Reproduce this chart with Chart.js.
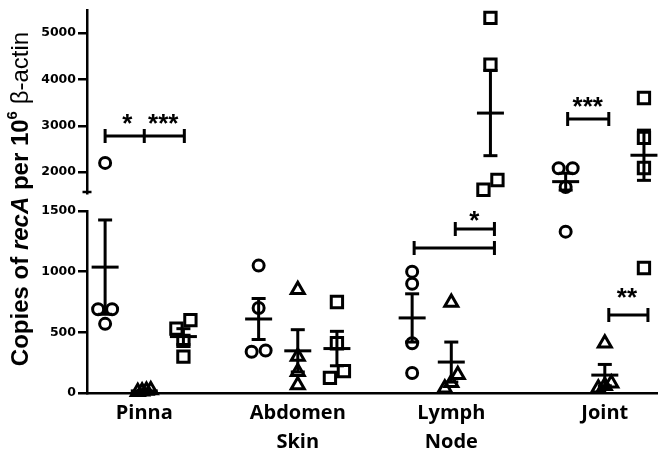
<!DOCTYPE html>
<html><head><meta charset="utf-8">
<script src="https://cdn.jsdelivr.net/npm/chart.js@4.4.1/dist/chart.umd.min.js"></script>
<style>html,body{margin:0;padding:0;background:#fff}#wrap{width:658px;height:460px}</style>
</head><body><div id="wrap"><canvas id="c" width="658" height="460"></canvas></div>
<script>
// ---------- data ----------
const categories = [['Pinna'], ['Abdomen', 'Skin'], ['Lymph', 'Node'], ['Joint']];
const circleValues   = [[2200, 690, 690, 570], [1050, 700, 350, 340], [1000, 900, 410, 165], [2085, 2085, 1680, 1330]];
const triangleValues = [[20, 10, 25, 15], [850, 300, 175, 65], [745, 150, 85, 40], [410, 80, 60, 40]];
const squareValues   = [[600, 530, 430, 300], [750, 410, 180, 125], [5330, 4320, 1830, 1620], [3600, 2740, 2090, 1030]];
const lowTicks  = [0, 500, 1000, 1500];
const highTicks = [2000, 3000, 4000, 5000];
const sigBrackets = [
  {axis: 'yHigh', y: 2780, x: [-0.255, 0, 0.261]},
  {axis: 'yLow',  y: 1195, x: [1.758, 2.281]},
  {axis: 'yLow',  y: 1352, x: [2.026, 2.281]},
  {axis: 'yHigh', y: 3147, x: [2.758, 3.026]},
  {axis: 'yLow',  y: 643,  x: [3.026, 3.281]}
];
const sigLabels = [
  {axis: 'yHigh', y: 3158, x: -0.111, text: '*'},
  {axis: 'yHigh', y: 3158, x: 0.124,  text: '***'},
  {axis: 'yLow',  y: 1459, x: 2.150,  text: '*'},
  {axis: 'yHigh', y: 3525, x: 2.889,  text: '***'},
  {axis: 'yLow',  y: 828,  x: 3.144,  text: '**'}
];

// ---------- helpers ----------
const BREAK = 1500, LOW_MAX = 1500, HIGH_MIN = 1550, HIGH_MAX = 5500;
const axisFor = v => (v >= BREAK ? 'yHigh' : 'yLow');
const mean = a => a.reduce((s, v) => s + v, 0) / a.length;
const sem = a => { const m = mean(a); return Math.sqrt(a.reduce((s, v) => s + (v - m) ** 2, 0) / (a.length - 1)) / Math.sqrt(a.length); };

const series = [
  {name: 'circle',   values: circleValues,   style: 'circle',   offset: -0.255, radius: 5.5},
  {name: 'triangle', values: triangleValues, style: 'triangle', offset: 0,      radius: 7.5},
  {name: 'square',   values: squareValues,   style: 'rect',     offset: 0.255,  radius: 8}
];

function buildDatasets(jit) {
  const ds = [];
  const whisk = {yLow: [], yHigh: []}, means = {yLow: [], yHigh: []}, caps = {yLow: [], yHigh: []};
  series.forEach((s, si) => {
    const pts = {yLow: [], yHigh: []};
    s.values.forEach((vals, gi) => {
      const cx = gi + s.offset;
      vals.forEach((v, k) => pts[axisFor(v)].push({x: cx + (jit ? jit[si][gi][k] : 0), y: v}));
      const m = mean(vals), e = sem(vals), lo = m - e, hi = m + e;
      means[axisFor(m)].push({x: cx, y: m});
      caps[axisFor(lo)].push({x: cx, y: lo});
      caps[axisFor(hi)].push({x: cx, y: hi});
      if (axisFor(lo) === axisFor(hi)) {
        whisk[axisFor(lo)].push({x: cx, y: lo}, {x: cx, y: hi}, {x: cx, y: null});
      } else {
        whisk.yLow.push({x: cx, y: lo}, {x: cx, y: LOW_MAX}, {x: cx, y: null});
        whisk.yHigh.push({x: cx, y: HIGH_MIN}, {x: cx, y: hi}, {x: cx, y: null});
      }
    });
    for (const ax of ['yLow', 'yHigh']) {
      ds.push({label: s.name, yAxisID: ax, data: pts[ax], pointStyle: s.style, pointRadius: s.radius,
        pointBorderWidth: 3, borderColor: '#000', pointBorderColor: '#000', clip: false,
        backgroundColor: 'rgba(0,0,0,0)', pointBackgroundColor: 'rgba(0,0,0,0)'});
    }
  });
  for (const ax of ['yLow', 'yHigh']) {
    ds.push({type: 'line', label: 'sem', yAxisID: ax, data: whisk[ax], spanGaps: false, pointRadius: 0,
      borderWidth: 3, borderColor: '#000', fill: false, tension: 0, clip: false});
    ds.push({label: 'mean', yAxisID: ax, data: means[ax], pointStyle: 'line', pointRadius: 13.5, clip: false,
      pointBorderWidth: 3, borderColor: '#000', pointBorderColor: '#000', backgroundColor: '#000'});
    ds.push({label: 'cap', yAxisID: ax, data: caps[ax], pointStyle: 'line', pointRadius: 7, clip: false,
      pointBorderWidth: 3, borderColor: '#000', pointBorderColor: '#000', backgroundColor: '#000'});
  }
  return ds;
}

function computeJitter(chart) {
  const xs = chart.scales.x;
  const pxPerX = xs.getPixelForValue(1) - xs.getPixelForValue(0);
  return series.map(s => s.values.map(vals => {
    const pts = vals.map((v, k) => ({k, py: chart.scales[axisFor(v)].getPixelForValue(v)}));
    pts.sort((a, b) => a.py - b.py);
    const out = new Array(vals.length).fill(0);
    let cluster = [pts[0]];
    const flush = () => {
      const n = cluster.length;
      const step = n === 1 ? 0 : (n === 2 ? 14 : 13 / (n - 1));
      cluster.forEach((p, i) => { out[p.k] = (((n - 1) / 2 - i) * step) / pxPerX; });
    };
    for (let i = 1; i < pts.length; i++) {
      if (pts[i].py - pts[i - 1].py < 10) cluster.push(pts[i]);
      else { flush(); cluster = [pts[i]]; }
    }
    flush();
    return out;
  }));
}

// ---------- plugins ----------
const decorations = {
  id: 'decorations',
  afterDatasetsDraw(chart) {
    const ctx = chart.ctx, xs = chart.scales.x;
    ctx.save();
    ctx.strokeStyle = '#000'; ctx.fillStyle = '#000'; ctx.lineWidth = 3; ctx.lineCap = 'butt';
    for (const b of sigBrackets) {
      const y = chart.scales[b.axis].getPixelForValue(b.y);
      const xsPx = b.x.map(v => xs.getPixelForValue(v));
      ctx.beginPath();
      ctx.moveTo(xsPx[0], y); ctx.lineTo(xsPx[xsPx.length - 1], y);
      for (const px of xsPx) { ctx.moveTo(px, y - 7); ctx.lineTo(px, y + 7); }
      ctx.stroke();
    }
    ctx.font = 'bold 26px "Liberation Sans", Arial, sans-serif';
    ctx.textAlign = 'center'; ctx.textBaseline = 'alphabetic';
    for (const l of sigLabels) {
      const y = chart.scales[l.axis].getPixelForValue(l.y);
      const m = ctx.measureText(l.text);
      const yy = y + (m.actualBoundingBoxAscent - m.actualBoundingBoxDescent) / 2;
      ctx.fillText(l.text, xs.getPixelForValue(l.x), yy);
    }
    ctx.restore();
  },
  afterDraw(chart) {
    const ctx = chart.ctx;
    const hs = chart.scales.yHigh;
    ctx.save();
    ctx.strokeStyle = '#000'; ctx.lineWidth = 2.5;
    ctx.beginPath(); ctx.moveTo(hs.right - 4.5, hs.bottom - 1); ctx.lineTo(hs.right + 4.5, hs.bottom - 1); ctx.stroke();
    // y-axis title with mixed styles
    const fam = '"Liberation Sans", Arial, sans-serif';
    const runs = [
      {t: 'Copies of ', f: 'bold 24px ' + fam},
      {t: 'recA', f: 'italic bold 24px ' + fam},
      {t: ' per 10', f: 'bold 24px ' + fam},
      {t: '6', f: 'bold 15px ' + fam, sup: true},
      {t: ' \u03B2-actin', f: '24px ' + fam}
    ];
    let total = 0;
    for (const r of runs) { ctx.font = r.f; r.w = ctx.measureText(r.t).width; total += r.w; }
    ctx.translate(20, 199);
    ctx.rotate(-Math.PI / 2);
    ctx.fillStyle = '#000'; ctx.textBaseline = 'middle'; ctx.textAlign = 'left';
    let x = -total / 2;
    for (const r of runs) {
      ctx.font = r.f;
      ctx.fillText(r.t, x, r.sup ? -7 : 1);
      x += r.w;
    }
    ctx.restore();
  }
};

const zeroPad = s => { s.paddingLeft = 0; s.paddingRight = 0; s.paddingTop = 0; s.paddingBottom = 0; };
const tickFont = {family: '"DejaVu Sans", sans-serif', size: 12.5, weight: 'bold'};
function yScale(stackWeight, min, max, ticks) {
  return {
    type: 'linear', position: 'left', stack: 'y', stackWeight, min, max,
    afterBuildTicks: s => { s.ticks = ticks.map(v => ({value: v})); },
    afterFit: s => { s.width = 87; zeroPad(s); },
    ticks: {font: tickFont, color: '#000', padding: 2, callback: v => String(v)},
    grid: {drawOnChartArea: false, drawTicks: true, tickLength: 9, tickWidth: 2.5, tickColor: '#000', lineWidth: 2.5, color: '#000'},
    border: {display: true, color: '#000', width: 2.5}
  };
}

const chart = new Chart(document.getElementById('c'), {
  type: 'scatter',
  data: {datasets: buildDatasets(null)},
  options: {
    responsive: false, animation: false, events: [],
    layout: {autoPadding: false, padding: {top: 10, right: 1, left: 0, bottom: 0}},
    plugins: {legend: {display: false}, tooltip: {enabled: false}, title: {display: false}},
    scales: {
      x: {
        type: 'linear', min: -0.373, max: 3.34,
        afterBuildTicks: s => { s.ticks = categories.map((_, i) => ({value: i})); },
        afterFit: s => { s.height = 67; zeroPad(s); },
        grid: {display: false, drawTicks: false},
        border: {display: true, color: '#000', width: 2.5},
        ticks: {autoSkip: false, maxRotation: 0, color: '#000', padding: 6,
          font: {family: '"Open Sans", sans-serif', size: 20, weight: 'bold', lineHeight: 1.45},
          callback: v => categories[v] || ''}
      },
      yLow: yScale(182, 0, LOW_MAX, lowTicks),
      yGap: {type: 'linear', position: 'left', stack: 'y', stackWeight: 18, min: 0, max: 1,
        afterFit: s => { s.width = 87; zeroPad(s); },
        ticks: {display: false}, grid: {display: false, drawTicks: false}, border: {display: false}},
      yHigh: yScale(183, HIGH_MIN, HIGH_MAX, highTicks)
    }
  },
  plugins: [decorations]
});
chart.data.datasets = buildDatasets(computeJitter(chart));
chart.update('none');
</script>
</body></html>
